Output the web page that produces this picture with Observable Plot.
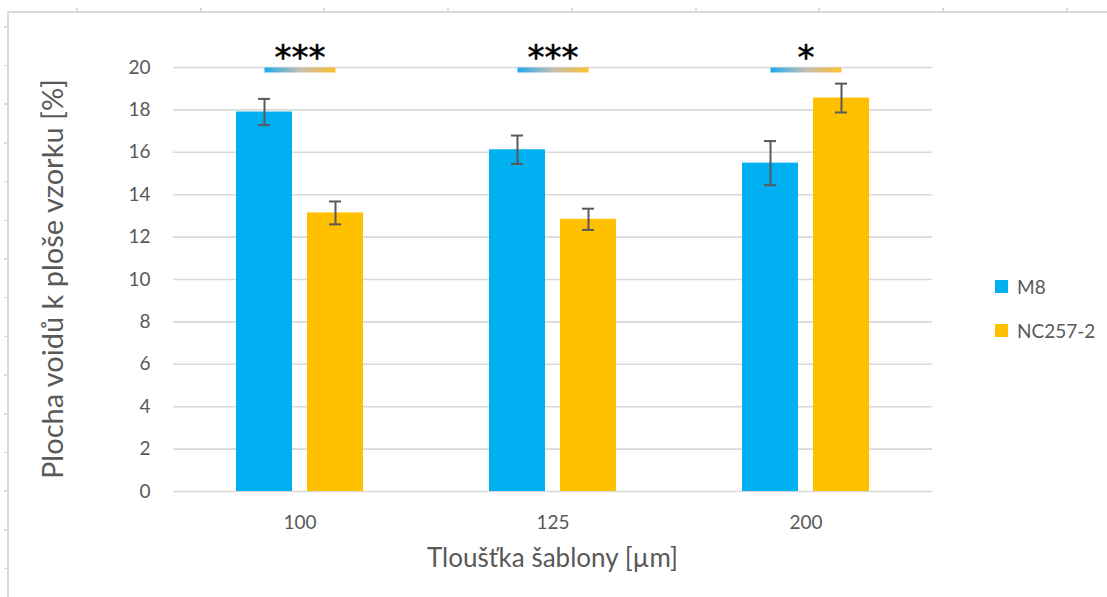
<!DOCTYPE html>
<html><head><meta charset="utf-8">
<script src="https://cdn.jsdelivr.net/npm/d3@7"></script>
<script src="https://cdn.jsdelivr.net/npm/@observablehq/plot@0.6"></script>
<style>
html,body{margin:0;padding:0;background:#fff;}
#wrap{position:relative;width:1107px;height:597px;overflow:hidden;font-family:Lato,sans-serif;}
#chart{position:absolute;left:0;top:0;}
#frame{position:absolute;left:7px;top:11px;right:-4px;bottom:-4px;border-left:2px solid #d9d9d9;border-top:2px solid #d9d9d9;pointer-events:none}
.tk{position:absolute;background:#d9d9d9}
#legend{position:absolute;left:0;top:0;color:#595959;font-size:19px;font-family:Lato,sans-serif}
.item{position:absolute;left:995px;display:flex;align-items:center;white-space:nowrap;height:20px}
.sw{width:13px;height:13px;margin-right:9px}
</style></head><body>
<div id="wrap"><div id="frame"></div><div id="chart"></div><div id="legend"></div></div>
<script>
const groups = ["100", "125", "200"];
const series = ["M8", "NC257-2"];
const seriesColors = ["#00B0F0", "#FFC000"];
const m8Values = [17.90, 16.12, 15.49];
const m8Errors = [0.62, 0.67, 1.04];
const ncValues = [13.14, 12.84, 18.56];
const ncErrors = [0.54, 0.50, 0.68];
const significance = ["***", "***", "*"];
const sigLevel = 20;
const yTicks = d3.range(0, 21, 2);
const xTitle = "Tloušťka šablony [µm]";
const yTitle = "Plocha voidů k ploše vzorku [%]";

const rows = groups.flatMap((g, i) => [
  {group: g, series: series[0], value: m8Values[i], err: m8Errors[i]},
  {group: g, series: series[1], value: ncValues[i], err: ncErrors[i]}
]);
const sigRows = groups.flatMap((g) => series.map((s) => ({group: g, series: s, level: sigLevel})));
const sigText = groups.map((g, i) => ({group: g, label: significance[i], level: sigLevel}));

const W = 1107, H = 597, ML = 172, MR = 174, MT = 67, MB = 106;

const plot = Plot.plot({
  width: W, height: H,
  marginLeft: ML, marginRight: MR, marginTop: MT, marginBottom: MB,
  style: {fontFamily: "Lato, sans-serif", color: "#595959", background: "transparent", overflow: "visible"},
  fx: {domain: groups, padding: 0, label: null, axis: null},
  x: {domain: series, paddingInner: 0.208, paddingOuter: 0.868, axis: null},
  y: {domain: [0, 20], axis: null},
  color: {domain: series, range: seriesColors},
  marks: [
    Plot.gridY(yTicks, {stroke: "#d9d9d9", strokeOpacity: 1, strokeWidth: 1.6}),
    Plot.axisY(yTicks, {tickSize: 0, tickPadding: 23, fontSize: 19, label: null, fill: "#595959"}),
    Plot.axisFx({anchor: "bottom", tickSize: 0, tickPadding: 24, fontSize: 19, label: null, fill: "#595959"}),
    Plot.barY(rows, {fx: "group", x: "series", y: "value", fill: "series"}),
    Plot.ruleX(rows, {fx: "group", x: "series", y1: (d) => d.value - d.err, y2: (d) => d.value + d.err, stroke: "#595959", strokeWidth: 2}),
    Plot.tickY(rows, {fx: "group", x: "series", y: (d) => d.value - d.err, stroke: "#595959", strokeWidth: 2, insetLeft: 22, insetRight: 22}),
    Plot.tickY(rows, {fx: "group", x: "series", y: (d) => d.value + d.err, stroke: "#595959", strokeWidth: 2, insetLeft: 22, insetRight: 22}),
    Plot.lineY(sigRows, {fx: "group", x: "series", y: "level", z: "group", stroke: "#bbb", strokeWidth: 5, strokeLinecap: "butt", dy: 2.5}),
    Plot.text(sigText, {fx: "group", y: "level", text: "label", dy: -9, fontSize: 34, fontWeight: "normal", fill: "#000", stroke: "#000", strokeWidth: 0.6, fontFamily: "DejaVu Sans", letterSpacing: 3})
  ]
});

document.getElementById("chart").appendChild(plot);

// gradients for significance bars
const svg = d3.select(plot);
const defs = svg.insert("defs", ":first-child");
plot.querySelectorAll('g[aria-label="line"] path').forEach((p, i) => {
  const b = p.getBBox();
  const id = "sig" + i;
  const lg = defs.append("linearGradient").attr("id", id).attr("gradientUnits", "userSpaceOnUse")
    .attr("x1", b.x).attr("x2", b.x + b.width).attr("y1", 0).attr("y2", 0);
  lg.append("stop").attr("offset", 0).attr("stop-color", "#1FA9EE");
  lg.append("stop").attr("offset", 0.5).attr("stop-color", "#C5BFB3");
  lg.append("stop").attr("offset", 1).attr("stop-color", "#FDC030");
  p.setAttribute("stroke", `url(#${id})`);
});

// axis titles
svg.append("text").attr("x", ML + (W - ML - MR) / 2).attr("y", 567)
  .attr("text-anchor", "middle").attr("fill", "#595959")
  .style("font-size", "26px").style("font-family", "Lato, sans-serif").text(xTitle);
svg.append("text").attr("transform", `translate(63,${MT + (H - MT - MB) / 2}) rotate(-90)`)
  .attr("text-anchor", "middle").attr("fill", "#595959")
  .style("font-size", "29px").style("font-family", "Lato, sans-serif").text(yTitle);

// legend
const legend = d3.select("#legend");
const legendY = [286, 330];
series.forEach((s, i) => {
  const it = legend.append("div").attr("class", "item").style("top", (legendY[i] - 10) + "px");
  it.append("div").attr("class", "sw").style("background", seriesColors[i]);
  it.append("span").text(s);
});

// frame ruler ticks
const wrap = document.getElementById("wrap");
for (let k = 0; k < 9; k++) {
  const d = document.createElement("div");
  d.className = "tk";
  Object.assign(d.style, {left: (76 + 123.7 * k) + "px", top: "8px", width: "2px", height: "3px"});
  wrap.appendChild(d);
}
for (let k = 0; k < 15; k++) {
  const d = document.createElement("div");
  d.className = "tk";
  Object.assign(d.style, {left: "4px", top: (26 + 38.7 * k) + "px", width: "3px", height: "1.5px"});
  wrap.appendChild(d);
}
</script>
</body></html>
